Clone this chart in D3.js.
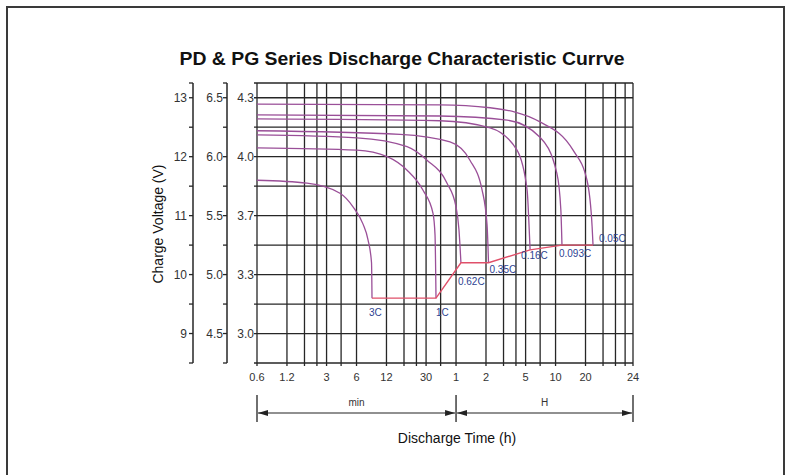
<!DOCTYPE html>
<html><head><meta charset="utf-8">
<script src="https://cdn.jsdelivr.net/npm/d3@7"></script>
<style>
body{margin:0;background:#fff}
svg{display:block}
text{font-family:"Liberation Sans",Arial,Helvetica,sans-serif}
</style>
</head><body>
<svg id="c" width="800" height="475"></svg>
<script>
// ---------------- data (time in hours, voltage of 12 V block) ----------------
const rates = ["3C", "1C", "0.62C", "0.35C", "0.16C", "0.093C", "0.05C"];
const curve3C    = [[0.01,11.60],[0.0318,11.55],[0.0682,11.38],[0.0922,11.15],[0.116,10.86],[0.1305,10.59],[0.1415,10.20],[0.1431,9.60]];
const curve1C    = [[0.01,12.15],[0.101,12.11],[0.203,12.00],[0.322,11.77],[0.466,11.43],[0.587,11.04],[0.615,10.67],[0.629,9.60]];
const curve062C  = [[0.01,12.37],[0.101,12.32],[0.322,12.17],[0.511,11.94],[0.812,11.55],[1.0,11.15],[1.07,10.76],[1.12,10.20]];
const curve035C  = [[0.01,12.44],[0.274,12.38],[0.87,12.25],[1.38,11.94],[1.83,11.43],[2.05,10.84],[2.12,10.20]];
const curve016C  = [[0.01,12.64],[0.69,12.61],[2.2,12.49],[4.1,12.11],[5.18,11.43],[5.42,10.81],[5.55,10.42]];
const curve0093C = [[0.01,12.71],[0.69,12.69],[3.26,12.62],[6.98,12.33],[10.3,11.72],[11.3,11.10],[11.6,10.50]];
const curve005C  = [[0.01,12.89],[0.69,12.88],[2.2,12.83],[6.98,12.59],[15.0,12.11],[20.7,11.60],[23.3,10.81],[23.8,10.50]];
const seriesValues = [curve3C, curve1C, curve062C, curve035C, curve016C, curve0093C, curve005C];
// end-of-discharge (cut-off) points, joined by the red line
const cutoff = [[0.1431,9.60],[0.629,9.60],[1.12,10.20],[2.12,10.20],[5.55,10.42],[11.6,10.50],[23.8,10.50]];

const xTickValues = [0.01, 0.02, 0.05, 0.1, 0.2, 0.5, 1, 2, 5, 10, 20, 60];
const xTickLabels = ["0.6", "1.2", "3", "6", "12", "30", "1", "2", "5", "10", "20", "24"];
const yTickValues = [9, 10, 11, 12, 13];
const yLabels12V = ["9", "10", "11", "12", "13"];
const yLabels6V  = ["4.5", "5.0", "5.5", "6.0", "6.5"];
const yLabels4V  = ["3.0", "3.3", "3.7", "4.0", "4.3"];
const yMinorValues = [8.5, 9.5, 10.5, 11.5, 12.5];
const gridMantissas = [1, 2, 3, 4, 5, 7];

// ---------------- layout / style ----------------
const labelOffsets = [[-3,18],[0,18],[-3,22],[1,10],[-9,9],[-3,12],[6,-3]];
const gridColor = "#262626";
const curveColor = "#9a4f98";
const cutColor = "#e0506a";
const labelColor = "#2e4392";
const textColor = "#333";

const svg = d3.select("#c");
const L = 257, R = 633, T = 83, B = 363;

const x = d3.scaleLog().domain([0.01, 60]).range([L, R]);
const y = d3.scaleLinear().domain([8.5, 13.25]).range([B, T]);

// frame
svg.append("rect").attr("x", 7).attr("y", 7).attr("width", 777).attr("height", 470)
  .attr("fill", "none").attr("stroke", "#3a3a3a").attr("stroke-width", 2);

// title
svg.append("text").attr("x", 402).attr("y", 65).attr("text-anchor", "middle")
  .attr("font-size", 18).attr("font-weight", "bold").attr("fill", "#111")
  .attr("textLength", 445).attr("lengthAdjust", "spacingAndGlyphs")
  .text("PD & PG Series Discharge Characteristic Currve");

// grid
const gridXVals = [];
[0.01, 0.1, 1, 10].forEach(d => gridMantissas.forEach(m => { const v = +(d*m).toPrecision(3); if (v <= 60) gridXVals.push(v); }));
gridXVals.push(60);
const g = svg.append("g");
g.selectAll("line.gx").data(gridXVals).join("line")
  .attr("x1", d => x(d)).attr("x2", d => x(d)).attr("y1", T).attr("y2", B + 3)
  .attr("stroke", gridColor).attr("stroke-width", 1.3);
const gridYVals = yMinorValues.concat(yTickValues).concat([13.25]);
g.selectAll("line.gy").data(gridYVals).join("line")
  .attr("x1", L - 3).attr("x2", R).attr("y1", d => y(d)).attr("y2", d => y(d))
  .attr("stroke", gridColor).attr("stroke-width", 1.3);

// x tick labels
svg.append("g").selectAll("text").data(xTickValues).join("text")
  .attr("x", (d) => x(d)).attr("y", 381).attr("text-anchor", "middle")
  .attr("font-size", 11).attr("fill", textColor)
  .text((d, i) => xTickLabels[i]);

// y axes
function yAxis(xPos, labels, labelX) {
  const a = svg.append("g");
  a.append("line").attr("x1", xPos).attr("x2", xPos).attr("y1", T).attr("y2", B)
    .attr("stroke", gridColor).attr("stroke-width", 1.5);
  a.selectAll("line.t").data(yTickValues.concat(yMinorValues).concat([13.25])).join("line")
    .attr("x1", xPos - 4).attr("x2", xPos).attr("y1", d => y(d)).attr("y2", d => y(d))
    .attr("stroke", gridColor).attr("stroke-width", 1.3);
  a.selectAll("text").data(yTickValues).join("text")
    .attr("x", labelX).attr("y", d => y(d) + 4).attr("text-anchor", "end")
    .attr("font-size", 12).attr("fill", textColor)
    .text((d, i) => labels[i]);
}
yAxis(193, yLabels12V, 187);
yAxis(227, yLabels6V, 223);
svg.append("g").selectAll("text").data(yTickValues).join("text")
  .attr("x", 254).attr("y", d => y(d) + 4).attr("text-anchor", "end")
  .attr("font-size", 12).attr("fill", textColor)
  .text((d, i) => yLabels4V[i]);

svg.append("text").attr("transform", "translate(163,224) rotate(-90)")
  .attr("text-anchor", "middle").attr("font-size", 14).attr("fill", "#111")
  .text("Charge Voltage (V)");

// curves
const line = d3.line().x(d => x(d[0])).y(d => y(d[1])).curve(d3.curveMonotoneX);
svg.append("g").selectAll("path").data(seriesValues).join("path")
  .attr("d", line).attr("fill", "none").attr("stroke", curveColor).attr("stroke-width", 1.3);
svg.append("path").datum(cutoff).attr("d", d3.line().x(d => x(d[0])).y(d => y(d[1])))
  .attr("fill", "none").attr("stroke", cutColor).attr("stroke-width", 1.4);

// rate labels
svg.append("g").selectAll("text").data(rates).join("text")
  .attr("x", (d, i) => x(cutoff[i][0]) + labelOffsets[i][0])
  .attr("y", (d, i) => y(cutoff[i][1]) + labelOffsets[i][1])
  .attr("font-size", 10).attr("fill", labelColor).text(d => d);

// min / H dimension arrows
const defs = svg.append("defs");
defs.append("marker").attr("id", "ah").attr("viewBox", "0 0 10 6").attr("refX", 10).attr("refY", 3)
  .attr("markerWidth", 10).attr("markerHeight", 6).attr("markerUnits", "userSpaceOnUse").attr("orient", "auto-start-reverse")
  .append("path").attr("d", "M0,0 L10,3 L0,6 Z").attr("fill", "#222");
const spans = [[0.01, 1, "min"], [1, 60, "H"]];
const ay = 413;
const ar = svg.append("g");
[0.01, 1, 60].forEach(v => ar.append("line").attr("x1", x(v)).attr("x2", x(v)).attr("y1", 395).attr("y2", 422)
  .attr("stroke", "#222").attr("stroke-width", 1.3));
spans.forEach(s => {
  ar.append("line").attr("x1", x(s[0]) + 1).attr("x2", x(s[1]) - 1).attr("y1", ay).attr("y2", ay)
    .attr("stroke", "#222").attr("stroke-width", 1.2)
    .attr("marker-start", "url(#ah)").attr("marker-end", "url(#ah)");
  ar.append("text").attr("x", (x(s[0]) + x(s[1])) / 2).attr("y", 406).attr("text-anchor", "middle")
    .attr("font-size", 10).attr("fill", textColor).text(s[2]);
});
svg.append("text").attr("x", 457).attr("y", 443).attr("text-anchor", "middle")
  .attr("font-size", 14).attr("fill", "#111").text("Discharge Time (h)");
</script>
</body></html>
